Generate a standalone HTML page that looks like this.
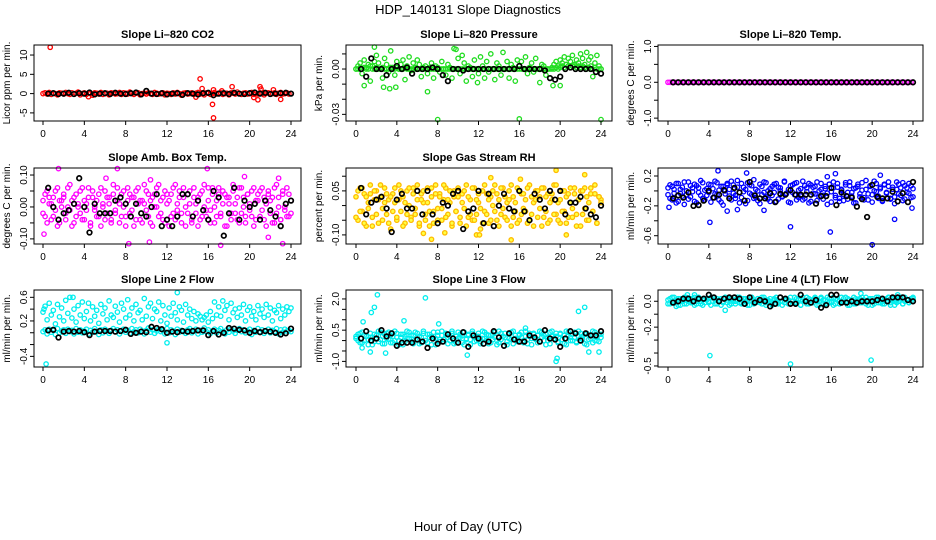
<!DOCTYPE html>
<html><head><meta charset="utf-8">
<style>
html,body{margin:0;padding:0;background:#fff;}
svg{display:block;font-family:"Liberation Sans",sans-serif;}
</style></head>
<body>
<svg id="chart" width="936" height="540" viewBox="0 0 936 540" xmlns="http://www.w3.org/2000/svg">
<rect x="0" y="0" width="936" height="540" fill="#fff"/>
<text x="468" y="14" text-anchor="middle" font-size="13">HDP_140131  Slope Diagnostics</text>
<text x="468" y="531" text-anchor="middle" font-size="13">Hour of Day (UTC)</text>
</svg>
<script>
const hoursMain=[0,.2,.4,.6,.8,1,1.2,1.4,1.6,1.8,2,2.2,2.4,2.6,2.8,3,3.2,3.4,3.6,3.8,4,4.2,4.4,4.6,4.8,5,5.2,5.4,5.6,5.8,6,6.2,6.4,6.6,6.8,7,7.2,7.4,7.6,7.8,8,8.2,8.4,8.6,8.8,9,9.2,9.4,9.6,9.8,10,10.2,10.4,10.6,10.8,11,11.2,11.4,11.6,11.8,12,12.2,12.4,12.6,12.8,13,13.2,13.4,13.6,13.8,14,14.2,14.4,14.6,14.8,15,15.2,15.4,15.6,15.8,16,16.2,16.4,16.6,16.8,17,17.2,17.4,17.6,17.8,18,18.2,18.4,18.6,18.8,19,19.2,19.4,19.6,19.8,20,20.2,20.4,20.6,20.8,21,21.2,21.4,21.6,21.8,22,22.2,22.4,22.6,22.8,23,23.2,23.4,23.6,23.8,24];
const hoursBlack=[.5,1,1.5,2,2.5,3,3.5,4,4.5,5,5.5,6,6.5,7,7.5,8,8.5,9,9.5,10,10.5,11,11.5,12,12.5,13,13.5,14,14.5,15,15.5,16,16.5,17,17.5,18,18.5,19,19.5,20,20.5,21,21.5,22,22.5,23,23.5,24];
const xTicks=[0,4,8,12,16,20,24];

const co2Main=[0,.2,-.1,.3,-.2,.1,0,-.3,.2,.1,-.1,.3,0,-.2,.2,-.1,.1,.4,-.3,0,.2,-.2,.1,0,-.4,.2,.1,-.1,.3,-.2,0,.1,-.3,.2,.1,-.1,0,.3,-.2,.2,.1,-.1,.4,0,-.2,.1,.2,-.3,0,.1,-.1,.2,0,-.2,.3,.1,-.1,0,.2,-.3,.1,0,-.2,.2,-.1,.3,0,-.4,.1,.2,-.1,0,.2,-.2,.1,.3,-.1,0,-.3,.2,.1,-.2,0,.3,-.1,.1,.2,-.2,0,.1,-.3,.2,.1,-.1,.4,0,-.2,.1,.2,-.1,0,.3,-.2,.1,-.1,.2,0,-.3,.1,.2,-.1,0,.2,-.2,.1,.3,-.1,0,.2,-.1,0];
const co2OutH=[.7,15.2,15.4,16.4,16.5,16.5,18.3,21,20.8,22.3,23,4.4,21.1,20.4,17.3,14.8];
const co2OutV=[12,3.8,1.3,-2.8,-6.3,1,1.8,1.8,-1.6,1,-1.5,-.8,1.2,-1,.7,-.9];
const co2Black=[0,.1,-.1,0,.2,-.1,.1,0,.3,-.2,0,.1,-.1,.2,0,-.1,.1,.3,-.2,.7,0,-.1,.1,-.2,0,.1,-.3,.1,0,-.2,.1,.2,-.4,0,.1,-.1,.2,0,-.1,.1,.3,0,.2,-.1,0,.1,.2,0];
const co2Ticks=[-5,0,5,10];
const co2TickLabels=["-5","0","5","10"];

const pressMain=[0,.002,.004,-.003,.006,0,.003,-.008,.002,.005,.009,.004,0,-.006,.007,.003,-.002,.012,.001,-.004,.005,0,.003,.006,-.007,.002,.008,-.001,.004,0,.006,.003,-.005,.001,.002,-.003,0,.004,-.006,.002,.001,-.002,.005,0,-.004,.003,.001,-.006,0,.013,.007,-.003,.009,.004,-.008,.002,.001,-.005,.006,0,-.003,.008,.002,-.006,.005,-.002,.010,0,-.007,.004,.002,-.004,.011,0,.005,-.006,.003,.001,-.008,.006,.002,.005,0,.008,-.003,.001,.004,-.002,.007,0,-.009,.003,.002,-.004,0,-.006,.001,.003,.005,.002,.006,.004,.008,.003,.007,.005,.009,.002,.006,.004,.010,.007,.003,.011,.006,.008,-.005,.004,.009,.002,0];
const pressMain2=[0,0,.001,0,.001,.001,0,.002,0,0,.001,0,0,.001,0,0,0,.001,0,0,.001,0,0,0,.001,0,0,0,0,.001,0,0,0,0,0,0,.001,0,0,0,0,0,0,0,0,0,0,0,0,0,0,0,0,0,0,0,0,0,0,0,0,0,0,0,0,0,0,0,0,0,0,0,0,0,0,0,0,0,0,0,0,0,0,0,0,0,0,0,0,0,0,0,0,0,0,0,0,0,.001,0,.001,.002,.001,.003,.002,.001,.002,.003,.001,.002,.001,.002,.001,0,.001,.002,0,.001,0,0,0];
const pressOutH=[8,16,24,9.6,1.8,7,2.7,3.3,11.9,.8,3.9,19.3,20];
const pressOutV=[-.0335,-.033,-.0335,.0135,.0145,-.015,-.012,-.013,-.009,-.011,-.012,-.011,-.011];
const pressBlack=[0,-.005,.007,0,0,-.004,0,.002,0,.001,-.003,0,0,0,.001,0,-.004,-.008,0,0,-.001,0,0,0,0,0,0,0,0,0,0,.002,0,0,0,0,-.001,-.006,-.007,-.005,0,.001,0,0,0,0,-.002,-.003];
const pressTicks=[-.03,-.02,-.01,0,.01];
const pressTickLabels=["-0.03","","","0.00",""];

const tempMain=[0,0,0,0,0,0,0,0,0,0,0,0,0,0,0,0,0,0,0,0,0,0,0,0,0,0,0,0,0,0,0,0,0,0,0,0,0,0,0,0,0,0,0,0,0,0,0,0,0,0,0,0,0,0,0,0,0,0,0,0,0,0,0,0,0,0,0,0,0,0,0,0,0,0,0,0,0,0,0,0,0,0,0,0,0,0,0,0,0,0,0,0,0,0,0,0,0,0,0,0,0,0,0,0,0,0,0,0,0,0,0,0,0,0,0,0,0,0,0,0,0];
const tempBlack=[0,0,0,0,0,0,0,0,0,0,0,0,0,0,0,0,0,0,0,0,0,0,0,0,0,0,0,0,0,0,0,0,0,0,0,0,0,0,0,0,0,0,0,0,0,0,0,0];
const tempTicks=[-1,-.5,0,.5,1];
const tempTickLabels=["-1.0","","0.0","","1.0"];

const ambMain=[.02,-.03,.05,.01,-.04,.03,-.01,.06,-.05,.02,.04,-.02,0,.07,-.06,.03,-.03,.01,.05,-.04,.02,-.01,.06,-.05,.03,0,-.03,.04,-.06,.01,.05,-.02,.03,-.04,.07,-.01,.02,-.05,.04,0,-.03,.06,-.02,.03,-.06,.05,.01,-.04,.02,.07,-.01,.04,-.05,.03,0,.06,-.03,.02,-.04,.05,.01,-.06,.04,-.02,.07,-.01,.03,-.05,.06,0,-.02,.05,-.04,.03,.01,-.06,.04,-.03,.07,-.01,.02,-.05,.06,0,-.03,.04,-.02,.05,-.06,.03,.01,-.04,.07,-.02,.03,-.05,.06,0,-.03,.04,-.01,.05,-.06,.02,.04,-.03,.06,-.04,.01,.05,-.02,.03,-.05,.07,0,-.04,.04,-.01,.06,-.03,.02];
const ambMain2=[-.02,.04,-.05,.03,.01,-.03,.05,-.06,.02,0,.03,-.04,.06,-.01,.02,-.05,.04,0,-.02,.06,-.04,.01,.03,-.06,.05,-.01,.02,-.03,.06,0,-.04,.03,.01,-.05,.04,-.02,.06,.01,-.03,.05,-.06,.02,.04,-.01,.03,-.04,.06,.02,-.05,.01,.05,-.03,.02,-.06,.04,0,.07,-.02,.03,-.05,.04,.02,-.03,.06,-.04,.01,.05,-.02,.03,-.06,.04,.01,-.05,.06,-.02,.03,-.04,.05,0,-.03,.06,-.01,.04,-.05,.02,.06,-.03,.01,.04,-.06,.03,-.02,.05,.01,-.04,.06,-.02,.03,-.05,.04,.01,-.03,.06,-.04,.02,.05,-.01,.03,-.06,.04,.02,-.05,.06,-.02,.03,-.04,.05,0,-.03,.04,-.02];
const ambOutH=[1.5,7.2,15.9,.1,17.2,8.3,23.2,10.3,21.8,6.1,22.8,19.5,10.4];
const ambOutV=[.12,.12,.12,-.085,-.12,-.115,-.115,-.11,-.095,.09,.09,.095,.085];
const ambBlack=[.06,0,-.04,-.02,-.01,.01,.09,0,-.08,.01,-.02,-.02,-.02,.02,.03,.01,-.03,.01,-.02,-.03,0,.04,-.06,-.04,-.06,-.03,.04,.04,-.03,.02,-.01,-.04,.05,.03,-.09,-.02,.06,-.04,.02,0,.01,-.04,.02,-.01,-.03,-.06,.01,.02];
const ambTicks=[-.1,-.05,0,.05,.1];
const ambTickLabels=["-0.10","","0.00","","0.10"];

const rhMain=[.03,-.05,.06,-.02,.04,-.07,.01,.07,-.04,.02,.05,-.06,.03,-.01,.06,-.03,.02,-.08,.04,.01,-.05,.07,-.02,.03,-.06,.05,0,-.04,.06,-.03,.02,-.07,.04,.01,-.05,.06,-.02,.03,-.06,.07,-.01,.04,-.05,.02,.06,-.03,.01,-.07,.05,-.02,.03,-.06,.04,-.01,.07,-.04,.02,-.05,.06,-.03,.01,-.08,.05,-.02,.04,-.06,.03,0,.07,-.05,.02,-.03,.06,-.04,.01,.05,-.07,.03,-.02,.06,-.05,.04,-.01,.02,-.06,.07,-.03,.01,.05,-.04,.03,-.07,.06,-.02,.04,-.05,.02,.07,-.03,.01,-.06,.05,-.02,.03,-.04,.06,-.01,.04,-.07,.02,.05,-.03,.06,-.05,.01,.04,-.02,.07,-.06,.03,.02];
const rhMain2=[-.04,.05,-.02,.06,-.06,.03,-.01,.04,-.07,.05,-.03,.02,.07,-.05,.01,.04,-.06,.03,-.02,.06,-.04,.02,.05,-.07,.01,-.03,.06,-.05,.04,-.01,.07,-.06,.02,.05,-.03,.01,-.07,.06,-.02,.04,-.05,.03,-.01,.07,-.04,.02,.05,-.06,.03,-.02,.06,-.04,.01,.05,-.07,.03,-.03,.06,-.05,.02,.04,-.01,-.06,.07,-.03,.02,-.05,.05,-.02,.04,-.07,.06,-.01,.03,-.05,.02,.07,-.04,.01,-.06,.05,-.03,.04,-.02,.06,-.05,.03,-.07,.02,.05,-.01,.06,-.04,.03,-.06,.01,.04,-.03,.07,-.05,.02,-.02,.05,-.06,.04,.01,-.04,.06,-.03,.02,-.07,.05,-.01,.03,-.05,.06,-.02,.04,-.06,.03,.01];
const rhOutH=[19.6,22.4,7.4,15.2,11.8,12.1,6.6,8.7,20.6,16.1,13.2];
const rhOutV=[.12,.105,-.115,-.117,-.1,-.1,-.095,-.093,-.1,.09,.095];
const rhBlack=[.06,-.03,.01,.02,.03,-.01,-.09,.02,.04,-.01,-.01,.05,-.03,.05,-.03,-.06,.01,0,.04,.05,-.08,-.02,-.01,.05,-.06,.04,-.07,0,.04,-.01,-.02,.05,-.02,-.05,.04,.02,-.01,.05,.02,.05,-.03,.01,.01,.03,-.01,-.03,-.04,0];
const rhTicks=[-.1,-.05,0,.05,.1];
const rhTickLabels=["-0.10","","","0.05",""];

const sfMain=[-.05,.08,-.12,.02,-.16,.1,-.03,.05,-.18,.0,.12,-.08,.04,-.14,.07,-.02,.14,-.1,.01,-.06,.09,-.15,.03,-.04,.11,-.12,.06,-.19,.0,.08,-.07,.13,-.03,-.1,.05,-.16,.1,-.01,.02,-.13,.08,-.05,.15,-.09,.0,-.17,.06,-.02,.11,-.11,.03,-.06,.09,-.14,.05,.0,-.08,.12,-.04,-.15,.07,-.02,.1,-.12,.01,-.07,.13,-.1,.04,-.16,.08,-.03,.06,-.13,.0,.1,-.06,.03,-.18,.09,-.01,.12,-.09,.05,-.14,.02,-.05,.11,-.11,.07,-.02,-.16,.04,.09,-.08,.01,-.12,.14,-.04,.06,-.15,.0,.1,-.07,.03,-.13,.08,-.02,.12,-.1,.05,-.17,.02,.09,-.06,.11,-.11,.04,-.03,.07,-.08];
const sfMain2=[.04,-.1,.06,-.03,.1,-.14,.02,-.07,.12,-.05,-.11,.07,-.01,.09,-.16,.04,-.06,.11,-.12,.03,-.02,.08,-.09,.13,-.05,.01,-.15,.06,-.04,.1,.02,-.12,.08,-.06,.14,-.02,-.09,.05,-.17,.11,-.03,.07,-.1,.02,-.13,.09,-.05,.12,-.08,.0,-.14,.06,-.02,.1,-.11,.04,-.07,.13,-.03,.02,-.16,.08,-.05,.11,-.09,.03,-.12,.07,-.01,.1,-.14,.05,-.04,.12,-.08,.02,-.11,.06,-.03,.09,-.15,.04,-.06,.1,-.1,.01,-.13,.08,-.02,.12,-.07,.03,-.16,.06,-.04,.11,-.09,.02,-.12,.07,-.05,.13,-.01,-.1,.05,-.14,.09,-.03,.06,-.11,.02,-.08,.12,-.04,.04,-.13,.07,-.02,.1,-.09,.03];
const sfOutH=[4.1,12,15.9,20,22.2,.1,4.9,16.4,7.7,5.8,9.4,6.8,20.8,15.6,23.9];
const sfOutV=[-.42,-.48,-.55,-.72,-.38,-.22,.27,.23,.24,-.27,-.26,-.25,.21,.19,-.23];
const sfBlack=[-.1,-.06,-.09,-.02,-.2,-.19,-.13,0,-.09,-.05,.01,-.1,.04,-.02,-.13,.12,-.06,-.1,-.1,-.03,-.15,-.04,-.05,.01,-.05,-.05,-.05,-.05,-.17,-.07,-.07,.04,-.19,-.02,-.07,-.09,-.21,-.11,-.35,.08,-.08,-.1,-.1,-.01,-.14,-.03,-.15,.12];
const sfTicks=[-.6,-.4,-.2,0,.2];
const sfTickLabels=["-0.6","","-0.2","","0.2"];

const l2Upper=[.35,.45,.22,.5,.3,.38,.15,.48,.27,.42,.2,.55,.33,.6,.25,.4,.18,.46,.3,.52,.24,.36,.5,.2,.44,.28,.38,.16,.48,.32,.42,.22,.54,.3,.26,.45,.35,.18,.5,.4,.25,.56,.3,.42,.2,.48,.34,.38,.22,.58,.28,.44,.5,.24,.4,.36,.52,.2,.46,.3,.16,.42,.28,.5,.34,.22,.44,.38,.18,.48,.3,.4,.24,.36,.2,.32,.28,.22,.26,.3,.18,.36,.24,.52,.3,.44,.28,.54,.38,.46,.22,.5,.34,.4,.26,.42,.3,.48,.2,.38,.44,.28,.36,.22,.46,.32,.4,.26,.48,.3,.42,.2,.38,.34,.46,.24,.4,.3,.44,.36,.42];
const l2Lower=[.02,.05,-.02,.06,.01,.04,-.03,.07,.0,.03,.05,-.01,.06,.02,.04,-.02,.07,.01,.05,.0,.03,.06,-.02,.04,.01,.07,.02,-.03,.05,.0,.06,.03,-.01,.04,.07,.02,.05,-.02,.03,.06,.01,.04,-.01,.07,.02,.05,.0,.06,.03,-.02,.04,.08,.01,.05,-.01,.03,.06,.02,.04,-.02,.07,.0,.05,.03,-.03,.06,.01,.04,.02,-.01,.05,.07,.0,.03,.06,-.02,.04,.01,.08,.02,.05,-.01,.03,.06,.0,.04,.07,.02,-.02,.05,.01,.06,.03,-.01,.04,.07,.02,.05,.0,.03,.06,-.03,.04,.01,.07,.02,.05,-.01,.03,.06,.0,.04,.02,.07,-.02,.05,.01,.06,.03,.04,.02];
const l2OutH=[.3,13,12,2.9,.1];
const l2OutV=[-.53,.68,-.17,.6,.4];
const l2Black=[.04,.05,-.08,.02,.03,.02,.03,.01,-.04,.02,.03,.03,.03,.02,.03,.05,-.02,.0,.02,.01,.1,.08,.06,.0,.02,.01,.03,.02,.03,.04,.04,-.04,.03,-.03,.0,.08,.07,.05,.04,.0,.03,.01,.03,.02,.0,-.03,-.01,.07];
const l2Ticks=[-.4,-.2,0,.2,.4,.6];
const l2TickLabels=["-0.4","","","0.2","","0.6"];

const l3Main=[.1,.3,-.1,.4,.0,.2,-.2,.35,.15,-.05,.25,.45,.05,-.15,.3,.1,.4,-.1,.2,.0,.35,-.2,.15,.3,-.05,.45,.1,.25,-.15,.4,.05,.2,-.1,.35,.0,.3,.15,-.2,.4,.1,.25,-.05,.45,.05,.3,-.15,.2,.35,.0,-.1,.4,.15,.25,-.2,.1,.3,.05,.45,-.05,.2,.35,-.15,.1,.4,.0,.25,-.1,.3,.15,-.2,.45,.05,.2,.35,-.05,.1,.4,-.15,.25,.0,.3,.15,-.1,.45,.05,.2,-.2,.35,.1,.25,-.05,.4,.0,.3,.15,-.15,.45,.1,.2,-.1,.35,.05,.25,-.2,.4,.0,.3,.15,-.05,.45,.1,.2,-.15,.35,.05,.25,-.1,.4,.0,.3,.15];
const l3Main2=[.2,.0,.35,-.1,.25,.45,.05,.15,-.2,.3,.1,-.05,.4,.2,-.15,.35,.05,.25,-.1,.45,.15,.0,.3,-.2,.2,.1,.4,-.05,.25,.05,.35,-.15,.15,.45,.0,-.1,.3,.2,.1,-.2,.4,.05,.25,-.05,.35,.15,.0,.45,-.15,.2,.1,.3,-.1,.4,.05,.25,-.2,.35,.15,.0,.2,-.05,.45,.1,.3,-.15,.25,.05,.4,.0,-.1,.35,.2,.15,-.2,.3,.05,.45,.1,-.05,.25,.4,.0,.2,-.15,.35,.1,.3,.05,-.1,.45,.15,.25,-.2,.0,.4,.2,.1,.35,-.05,.3,.05,-.15,.45,.25,.15,.0,.4,-.1,.2,.35,.05,.3,-.2,.25,.1,.45,.0,.15,-.05,.3];
const l3OutH=[2.1,6.8,1.5,1.8,.7,4.7,21.8,22.4,19.6,19.7,10.9,1.4,2.9,8.1,16.6,22.8,23.8,.6];
const l3OutV=[2.2,2.05,1.35,1.6,.9,.95,1.4,1.6,-1.0,-.85,-.7,-.55,-.6,.8,.6,-.55,-.55,-.35];
const l3Black=[.1,.45,.0,.1,.5,.2,.35,-.25,-.1,-.1,-.1,.05,-.05,-.35,.1,-.15,-.05,.3,.1,-.1,.4,-.3,.25,.1,-.15,-.05,.45,.15,-.25,.35,.05,-.05,-.05,.25,.15,-.05,.5,.1,.05,-.3,.1,.45,.35,.0,.35,.25,.25,.45];
const l3Ticks=[-1,-.5,0,.5,1,1.5,2];
const l3TickLabels=["-1.0","","","0.5","","","2.0"];

const l4Main=[.01,-.02,.03,.0,-.01,.02,-.03,.01,.03,-.02,.0,.02,-.01,.03,-.02,.01,.0,-.03,.02,.01,-.01,.03,.0,-.02,.02,.01,-.03,.0,.03,-.01,.02,-.02,.01,.0,.03,-.01,-.02,.02,.0,.01,-.03,.03,.01,-.01,.02,.0,-.02,.03,-.01,.01,.0,-.03,.02,.01,-.02,.03,.0,-.01,.02,.01,-.02,.0,.03,-.01,.02,-.03,.01,.0,.03,-.02,.01,-.01,.02,.0,-.03,.03,.01,-.02,.0,.02,-.01,.03,-.02,.01,.0,-.01,.02,.03,-.03,.01,.0,-.02,.02,.01,-.01,.03,.0,-.02,.01,.02,-.03,.0,.03,-.01,.02,-.02,.01,.0,.03,-.01,.02,-.03,.01,.0,.02,-.02,.03,.01,-.01,.0,.02];
const l4Main2=[-.02,.02,-.01,.03,.01,-.03,.02,.0,-.02,.03,.01,-.01,.02,-.03,.0,.03,-.02,.01,-.01,.02,.0,-.03,.03,.01,-.02,.0,.02,-.01,.03,.01,-.03,.02,.0,-.02,.01,.03,-.01,.0,.02,-.03,.01,.03,-.02,.0,.02,-.01,.03,.01,-.03,.0,.02,-.02,.01,.03,-.01,.0,-.03,.02,.01,-.02,.03,.0,-.01,.02,.01,-.03,.03,.0,-.02,.02,-.01,.01,.03,-.03,.0,.02,-.02,.01,.03,-.01,.0,-.03,.02,.01,-.02,.03,.0,-.01,.02,-.03,.01,.03,-.02,.0,.02,-.01,.01,.03,-.03,.0,.02,-.02,.01,.03,-.01,.0,-.02,.02,.03,-.03,.01,.0,-.01,.02,.03,-.02,.0,.01,-.01,.02,.03];
const l4OutH=[4.1,12,19.9,5.6,1.9,18.9,.8,2.6,22.5];
const l4OutV=[-.42,-.485,-.455,-.07,.05,.06,-.04,.05,.05];
const l4Black=[-.01,.0,.02,.02,.0,.02,.02,.05,.03,.0,.02,.03,.03,.02,-.02,.03,-.01,.01,.0,-.04,-.02,.03,.02,-.02,-.02,.05,.0,-.01,.01,-.05,-.03,.05,.05,-.01,-.01,.0,-.01,.0,.0,.0,.01,.02,.0,.03,.03,.03,.01,.0];
const l4Ticks=[-.5,-.4,-.3,-.2,-.1,0];
const l4TickLabels=["-0.5","","","-0.2","","0.0"];

const NS="http://www.w3.org/2000/svg";
const svg=document.getElementById('chart');
function mk(tag,attrs,parent){const e=document.createElementNS(NS,tag);for(const k in attrs)e.setAttribute(k,attrs[k]);(parent||svg).appendChild(e);return e;}

const cols=[{l:34,r:301,h0:43,h24:291},{l:346,r:612,h0:356,h24:601},{l:658,r:923,h0:668,h24:913}];
const rows=[{t:45,b:121},{t:168,b:244},{t:290,b:367}];

const panels=[
 {key:'co2',title:'Slope Li\u2013820 CO2',ylab:'Licor ppm per min.',col:0,row:0,ymin:-7.1,ymax:12.6,color:'#ff0000',fill:'none',main:[co2Main],outH:co2OutH,outV:co2OutV,black:co2Black,ticks:co2Ticks,labels:co2TickLabels},
 {key:'pressure',title:'Slope Li\u2013820 Pressure',ylab:'kPa per min.',col:1,row:0,ymin:-.0344,ymax:.0159,color:'#22dd22',fill:'none',main:[pressMain,pressMain2],outH:pressOutH,outV:pressOutV,black:pressBlack,ticks:pressTicks,labels:pressTickLabels},
 {key:'li820-temp',title:'Slope Li\u2013820 Temp.',ylab:'degrees C per min.',col:2,row:0,ymin:-1.08,ymax:1.04,color:'#ff00ff',fill:'none',main:[tempMain],outH:[],outV:[],black:tempBlack,ticks:tempTicks,labels:tempTickLabels},
 {key:'amb-box-temp',title:'Slope Amb. Box Temp.',ylab:'degrees C per min.',col:0,row:1,ymin:-.116,ymax:.122,color:'#ff00ff',fill:'none',main:[ambMain,ambMain2],outH:ambOutH,outV:ambOutV,black:ambBlack,ticks:ambTicks,labels:ambTickLabels},
 {key:'gas-stream-rh',title:'Slope Gas Stream RH',ylab:'percent per min.',col:1,row:1,ymin:-.131,ymax:.128,color:'#ffbb00',fill:'#ffff44',main:[rhMain,rhMain2],outH:rhOutH,outV:rhOutV,black:rhBlack,ticks:rhTicks,labels:rhTickLabels},
 {key:'sample-flow',title:'Slope Sample Flow',ylab:'ml/min per min.',col:2,row:1,ymin:-.711,ymax:.307,color:'#0000ff',fill:'none',main:[sfMain,sfMain2],outH:sfOutH,outV:sfOutV,black:sfBlack,ticks:sfTicks,labels:sfTickLabels},
 {key:'line2-flow',title:'Slope Line 2 Flow',ylab:'ml/min per min.',col:0,row:2,ymin:-.58,ymax:.724,color:'#00eeee',fill:'none',main:[l2Upper,l2Lower],outH:l2OutH,outV:l2OutV,black:l2Black,ticks:l2Ticks,labels:l2TickLabels},
 {key:'line3-flow',title:'Slope Line 3 Flow',ylab:'ml/min per min.',col:1,row:2,ymin:-1.27,ymax:2.43,color:'#00eeee',fill:'none',main:[l3Main,l3Main2],outH:l3OutH,outV:l3OutV,black:l3Black,ticks:l3Ticks,labels:l3TickLabels},
 {key:'line4-flow',title:'Slope Line 4 (LT) Flow',ylab:'ml/min per min.',col:2,row:2,ymin:-.508,ymax:.087,color:'#00eeee',fill:'none',main:[l4Main,l4Main2],outH:l4OutH,outV:l4OutV,black:l4Black,ticks:l4Ticks,labels:l4TickLabels}
];

panels.forEach(p=>{
 const c=cols[p.col], r=rows[p.row];
 const xs=h=>c.h0+(h/24)*(c.h24-c.h0);
 const ys=v=>r.t+(p.ymax-v)/(p.ymax-p.ymin)*(r.b-r.t);
 const g=mk('g',{});
 
 
 const title=mk('text',{x:(c.l+c.r)/2,y:r.t-7,'text-anchor':'middle','font-size':'11','font-weight':'bold'},g);
 title.textContent=p.title;
 
 
 const yl=mk('text',{x:0,y:0,'text-anchor':'middle','font-size':'10',transform:`translate(${c.l-24},${(r.t+r.b)/2}) rotate(-90)`},g);
 yl.textContent=p.ylab;
 
 
 const pts=mk('g',{},g);
 
 
 p.main.forEach(arr=>{
  const n=Math.min(arr.length,hoursMain.length);
  for(let i=0;i<n;i++){
   const ci=mk('circle',{cx:xs(hoursMain[i]).toFixed(1),cy:ys(arr[i]).toFixed(1),r:2.2,fill:p.fill,stroke:p.color,'stroke-width':1.3},pts);
   
   
  }
 });
 for(let i=0;i<p.outH.length;i++){
  const ci=mk('circle',{cx:xs(p.outH[i]).toFixed(1),cy:ys(p.outV[i]).toFixed(1),r:2.2,fill:p.fill,stroke:p.color,'stroke-width':1.3},pts);
  
  
 }
 for(let i=0;i<Math.min(p.black.length,hoursBlack.length);i++){
  const ci=mk('circle',{cx:xs(hoursBlack[i]).toFixed(1),cy:ys(p.black[i]).toFixed(1),r:2.3,fill:'none',stroke:'#000','stroke-width':1.7},pts);
  
  
 }
 const box=mk('rect',{x:c.l,y:r.t,width:c.r-c.l,height:r.b-r.t,fill:'none',stroke:'#000','stroke-width':1},g);
 
 
 xTicks.forEach(t=>{
  const x=xs(t);
  mk('line',{x1:x,x2:x,y1:r.b,y2:r.b+4,stroke:'#000'},g);
  const tl=mk('text',{x:x,y:r.b+16,'text-anchor':'middle','font-size':'10'},g);
  tl.textContent=String(t);
  
  
 });
 p.ticks.forEach((t,i)=>{
  const y=ys(t);
  mk('line',{x1:c.l-4,x2:c.l,y1:y,y2:y,stroke:'#000'},g);
  if(p.labels[i]){
   const tl=mk('text',{x:0,y:0,'text-anchor':'middle','font-size':'10',transform:`translate(${c.l-7},${y}) rotate(-90)`},g);
   tl.textContent=p.labels[i];
   
   
  }
 });
});
</script>
</body></html>
